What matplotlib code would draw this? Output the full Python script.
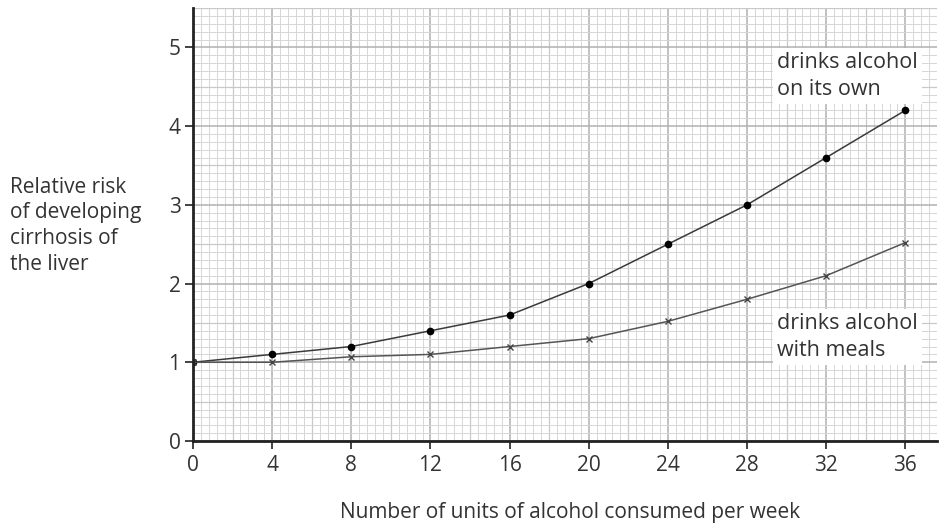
import numpy as np
import matplotlib
matplotlib.use("Agg")
import matplotlib.pyplot as plt

# units of alcohol per week and relative risk
units = [0, 4, 8, 12, 16, 20, 24, 28, 32, 36]
risk_own = [1.0, 1.1, 1.2, 1.4, 1.6, 2.0, 2.5, 3.0, 3.6, 4.2]
risk_meals = [1.0, 1.0, 1.07, 1.1, 1.2, 1.3, 1.52, 1.8, 2.1, 2.52]

x_ticks = [0, 4, 8, 12, 16, 20, 24, 28, 32, 36]
y_ticks = [0, 1, 2, 3, 4, 5]

plt.rcParams["font.family"] = ["Open Sans", "DejaVu Sans"]
txt = "#333333"

fig = plt.figure(figsize=(9.4, 5.27), dpi=100)
ax = fig.add_axes([0.2053, 0.1632, 0.7915, 0.8216])

ax.set_xlim(0, 37.6)
ax.set_ylim(0, 5.5)

# graph paper grid
for xv in np.arange(0, 37.7, 0.4):
    k = int(round(xv / 0.4))
    if k % 10 == 0:
        c, lw = "#b0b0b0", 1.1
    elif k % 5 == 0:
        c, lw = "#c8c8c8", 0.9
    else:
        c, lw = "#d6d6d6", 0.7
    ax.axvline(xv, color=c, lw=lw, zorder=0)
for yv in np.arange(0, 5.55, 0.1):
    k = int(round(yv / 0.1))
    if k % 10 == 0:
        c, lw = "#b0b0b0", 1.1
    elif k % 5 == 0:
        c, lw = "#c8c8c8", 0.9
    else:
        c, lw = "#d6d6d6", 0.7
    ax.axhline(yv, color=c, lw=lw, zorder=0)

ax.plot(units, risk_own, color="#3a3a3a", lw=1.1, marker="o", ms=4.5,
        mfc="black", mec="black", zorder=3)
ax.plot(units, risk_meals, color="#555555", lw=1.1, marker="x", ms=5,
        mec="#444444", mew=1.0, zorder=3)

box = dict(facecolor="white", edgecolor="none", pad=3)
ax.text(29.5, 4.64, "drinks alcohol\non its own", fontsize=15.5, color=txt,
        ha="left", va="center", linespacing=1.35, bbox=box, zorder=4)
ax.text(29.5, 1.32, "drinks alcohol\nwith meals", fontsize=15.5, color=txt,
        ha="left", va="center", linespacing=1.35, bbox=box, zorder=4)

ax.set_xticks(x_ticks)
ax.set_yticks(y_ticks)
ax.tick_params(axis="both", length=6, width=1.2, color="#222222",
               labelsize=15, labelcolor=txt)
ax.tick_params(axis="x", pad=4)
ax.tick_params(axis="y", pad=3)

for s in ["top", "right"]:
    ax.spines[s].set_visible(False)
for s in ["left", "bottom"]:
    ax.spines[s].set_linewidth(2)
    ax.spines[s].set_color("#222222")
    ax.spines[s].set_zorder(5)

fig.text(0.011, 0.665, "Relative risk\nof developing\ncirrhosis of\nthe liver",
         fontsize=15, color=txt, ha="left", va="top", linespacing=1.3)
fig.text(0.606, 0.028, "Number of units of alcohol consumed per week",
         fontsize=15, color=txt, ha="center", va="center")

fig.savefig("out.png", dpi=100)
